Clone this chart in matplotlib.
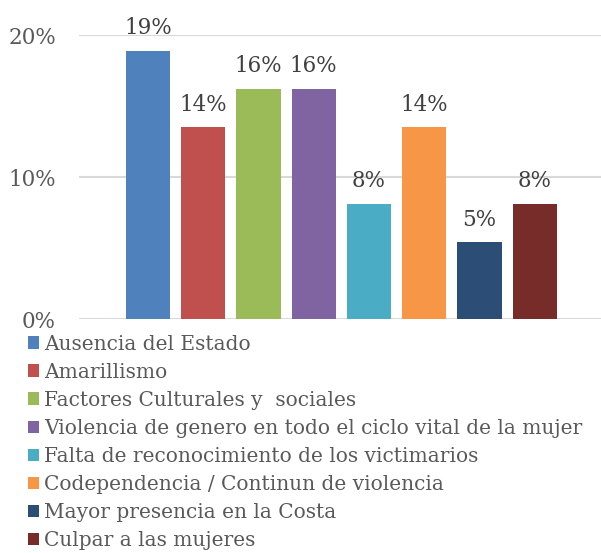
import matplotlib
matplotlib.use("Agg")
import matplotlib.pyplot as plt
from matplotlib.ticker import PercentFormatter

categories = [
    "Ausencia del Estado",
    "Amarillismo",
    "Factores Culturales y  sociales",
    "Violencia de genero en todo el ciclo vital de la mujer",
    "Falta de reconocimiento de los victimarios",
    "Codependencia / Continun de violencia",
    "Mayor presencia en la Costa",
    "Culpar a las mujeres",
]
values = [0.189, 0.135, 0.162, 0.162, 0.081, 0.135, 0.054, 0.081]
colors = ["#4f81bd", "#c0504d", "#9bbb59", "#8064a2",
          "#4bacc6", "#f79646", "#2c4d75", "#772c2a"]

plt.rcParams['font.family'] = ['DejaVu Serif']

fig = plt.figure(figsize=(6.01, 5.53), dpi=100)
ax = fig.add_axes([0.1314, 0.4231, 0.8686, 0.5136])

for i, (cat, val, col) in enumerate(zip(categories, values, colors)):
    ax.bar(i, val, width=0.8, color=col, label=cat, zorder=3)
    ax.annotate(f"{val:.0%}", (i, val), xytext=(0, 12), textcoords='offset points',
                ha='center', va='baseline', fontsize=15.5, color='#404040')

ax.set_xlim(-1.25, 8.2)
ax.set_ylim(0, 0.2)
ax.set_yticks([0, 0.1, 0.2])
ax.yaxis.set_major_formatter(PercentFormatter(1.0, decimals=0))
ax.set_xticks([])
ax.tick_params(axis='y', length=0, pad=16.5, labelsize=15.5, labelcolor='#595959')
ax.grid(axis='y', color='#d9d9d9', linewidth=1.5, zorder=0)
for s in ax.spines.values():
    s.set_visible(False)

fig.legend(loc='upper left', bbox_to_anchor=(0.047, 0.395), frameon=False,
           fontsize=14.5, labelcolor='#595959', handlelength=0.55,
           handleheight=0.55, handletextpad=0.25, labelspacing=0.45,
           borderaxespad=0, borderpad=0)

fig.savefig("out.png", dpi=100)
